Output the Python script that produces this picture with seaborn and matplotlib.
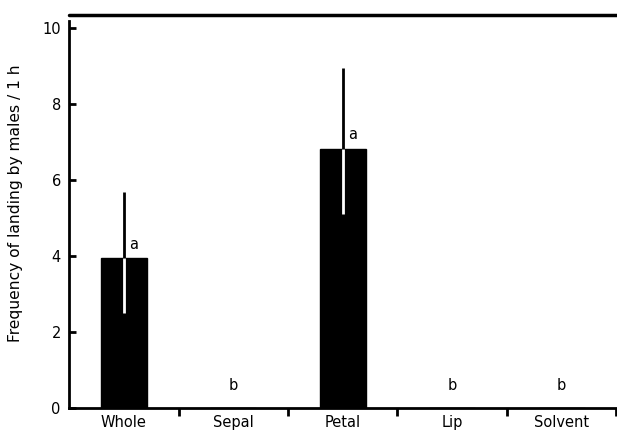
import numpy as np
import pandas as pd
import matplotlib
matplotlib.use("Agg")
import matplotlib.pyplot as plt
import seaborn as sns
from matplotlib.lines import Line2D

parts = ["Whole", "Sepal", "Petal", "Lip", "Solvent"]
means = [3.95, 0, 6.82, 0, 0]
err_hi = [5.68, 0, 8.96, 0, 0]   # top of black whisker
err_lo = [2.5, 0, 5.1, 0, 0]     # bottom of white whisker
letters = ["a", "b", "a", "b", "b"]
letter_y = [4.3, 0.6, 7.2, 0.6, 0.6]

sns.set_style("ticks")
plt.rcParams["font.family"] = ["DejaVu Sans"]
plt.rcParams.update({"text.color": "black", "axes.labelcolor": "black",
                     "xtick.color": "black", "ytick.color": "black",
                     "axes.edgecolor": "black"})

df = pd.DataFrame({"part": parts, "freq": means})

fig = plt.figure(figsize=(6.17, 4.32), dpi=100)
ax = fig.add_axes([0.112, 0.056, 0.887, 0.895])

sns.barplot(data=df, x="part", y="freq", color="black", width=0.42,
            saturation=1, edgecolor="black", ax=ax)

x = np.arange(len(parts))
for i in range(len(parts)):
    if means[i] > 0:
        ax.vlines(x[i], means[i], err_hi[i], color="black", lw=2, zorder=3)
        ax.vlines(x[i], err_lo[i], means[i], color="white", lw=2, zorder=3)
    dx = 0.09 if means[i] > 0 else 0
    ax.text(x[i] + dx, letter_y[i], letters[i], ha="center", va="center", fontsize=10.5)

ax.set_xlim(-0.5, 4.5)
ax.set_ylim(0, 10.18)
ax.set_yticks([0, 2, 4, 6, 8, 10])
ax.tick_params(axis="y", direction="in", length=5, width=2, labelsize=10.5, pad=6)

ax.set_xticks(x + 0.5)
ax.set_xticklabels([])
ax.set_xticks(x, minor=True)
ax.set_xticklabels(parts, minor=True)
ax.tick_params(axis="x", which="major", direction="out", length=6, width=2)
ax.tick_params(axis="x", which="minor", length=0, labelsize=10.5, pad=5)

ax.set_xlabel("")
ax.set_ylabel("Frequency of landing by males / 1 h", fontsize=11.2)
ax.yaxis.set_label_coords(-0.085, 0.53)

for s in ["top", "right"]:
    ax.spines[s].set_visible(False)
for s in ["left", "bottom"]:
    ax.spines[s].set_linewidth(2)

# rule across the top of the figure
fig.add_artist(Line2D([0.112, 1.0], [0.965, 0.965], color="black", lw=2.5,
                      transform=fig.transFigure))

fig.savefig("out.png", dpi=100)
